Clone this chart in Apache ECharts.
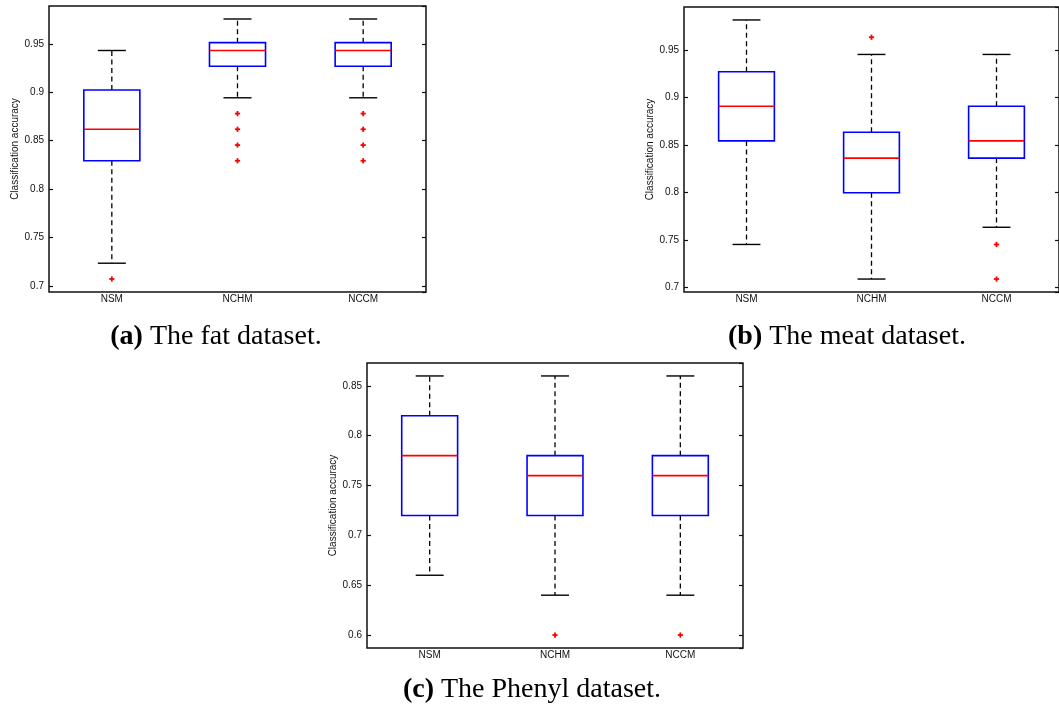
<!DOCTYPE html>
<html>
<head>
<meta charset="utf-8">
<title>Classification accuracy box plots</title>
<script src="https://cdn.jsdelivr.net/npm/echarts@6/dist/echarts.min.js"></script>
<style>
  html, body { margin: 0; padding: 0; background: #fff; }
  #chart { width: 1059px; height: 711px; }
</style>
</head>
<body>
<div id="chart"></div>
<script>
// Methods compared in every panel
const categories = ['NSM', 'NCHM', 'NCCM'];

// Box statistics per method: [lower whisker, Q1, median, Q3, upper whisker]
const fatBoxes = [
  [0.7236, 0.8293, 0.8618, 0.9024, 0.9431],
  [0.8943, 0.9268, 0.9431, 0.9512, 0.9756],
  [0.8943, 0.9268, 0.9431, 0.9512, 0.9756]
];
// Outliers: [method index, value]
const fatOutliers = [
  [0, 0.7073],
  [1, 0.8780], [1, 0.8618], [1, 0.8455], [1, 0.8293],
  [2, 0.8780], [2, 0.8618], [2, 0.8455], [2, 0.8293]
];

const meatBoxes = [
  [0.7455, 0.8545, 0.8909, 0.9273, 0.9818],
  [0.7091, 0.8000, 0.8364, 0.8636, 0.9455],
  [0.7636, 0.8364, 0.8545, 0.8909, 0.9455]
];
const meatOutliers = [
  [1, 0.9636],
  [2, 0.7455], [2, 0.7091]
];

const phenylBoxes = [
  [0.66, 0.72, 0.78, 0.82, 0.86],
  [0.64, 0.72, 0.76, 0.78, 0.86],
  [0.64, 0.72, 0.76, 0.78, 0.86]
];
const phenylOutliers = [
  [1, 0.60],
  [2, 0.60]
];

const captions = [
  { tag: '(a)', text: ' The fat dataset.' },
  { tag: '(b)', text: ' The meat dataset.' },
  { tag: '(c)', text: ' The Phenyl dataset.' }
];
const yAxisName = 'Classification accuracy';

// Panel frames in pixels
const panels = [
  { boxes: fatBoxes, outliers: fatOutliers, grid: { left: 49, top: 6, width: 377, height: 286 }, nameGap: 28, caption: { x: 216, y: 337 } },
  { boxes: meatBoxes, outliers: meatOutliers, grid: { left: 684, top: 7, width: 376, height: 285 }, nameGap: 28, caption: { x: 847, y: 337 } },
  { boxes: phenylBoxes, outliers: phenylOutliers, grid: { left: 367, top: 363, width: 376, height: 285 }, nameGap: 28, caption: { x: 532, y: 690 } }
];

// Axis limits: data range padded by 5% on each side
function paddedRange(boxes, outliers) {
  const vals = [];
  boxes.forEach(b => vals.push(...b));
  outliers.forEach(o => vals.push(o[1]));
  const lo = Math.min(...vals), hi = Math.max(...vals);
  const pad = (hi - lo) * 0.05;
  return [lo - pad, hi + pad];
}

function renderBox(params, api) {
  const x = api.value(0);
  const lo = api.coord([x, api.value(1)]);
  const q1 = api.coord([x, api.value(2)]);
  const med = api.coord([x, api.value(3)]);
  const q3 = api.coord([x, api.value(4)]);
  const hi = api.coord([x, api.value(5)]);
  const band = api.size([1, 0])[0];
  const halfBox = band * 0.223;
  const halfCap = halfBox / 2;
  const cx = lo[0];
  const whisker = { stroke: '#000', lineWidth: 1.3, lineDash: [5, 3.5] };
  const cap = { stroke: '#000', lineWidth: 1.4 };
  return {
    type: 'group',
    children: [
      { type: 'line', shape: { x1: cx, y1: q3[1], x2: cx, y2: hi[1] }, style: whisker },
      { type: 'line', shape: { x1: cx, y1: q1[1], x2: cx, y2: lo[1] }, style: whisker },
      { type: 'line', shape: { x1: cx - halfCap, y1: hi[1], x2: cx + halfCap, y2: hi[1] }, style: cap },
      { type: 'line', shape: { x1: cx - halfCap, y1: lo[1], x2: cx + halfCap, y2: lo[1] }, style: cap },
      { type: 'rect', shape: { x: cx - halfBox, y: q3[1], width: halfBox * 2, height: q1[1] - q3[1] },
        style: { fill: 'none', stroke: '#0000ff', lineWidth: 1.6 } },
      { type: 'line', shape: { x1: cx - halfBox, y1: med[1], x2: cx + halfBox, y2: med[1] },
        style: { stroke: '#ff0000', lineWidth: 1.6 } }
    ]
  };
}

function renderPlus(params, api) {
  const p = api.coord([api.value(0), api.value(1)]);
  const r = 2.6;
  const st = { stroke: '#ff0000', lineWidth: 1.8 };
  return {
    type: 'group',
    children: [
      { type: 'line', shape: { x1: p[0] - r, y1: p[1], x2: p[0] + r, y2: p[1] }, style: st },
      { type: 'line', shape: { x1: p[0], y1: p[1] - r, x2: p[0], y2: p[1] + r }, style: st }
    ]
  };
}

const axisFont = { fontFamily: 'Liberation Sans', fontSize: 10, color: '#111' };
const grids = [], xAxes = [], yAxes = [], series = [], graphics = [];

panels.forEach((p, i) => {
  const [ymin, ymax] = paddedRange(p.boxes, p.outliers);
  grids.push(Object.assign({ show: true, borderColor: '#111', borderWidth: 1.5, backgroundColor: '#fff' }, p.grid));
  xAxes.push({
    type: 'category', gridIndex: i, data: categories,
    axisLine: { show: false }, axisTick: { show: false },
    axisLabel: Object.assign({ margin: 2 }, axisFont),
    splitLine: { show: false }
  });
  const yBase = {
    type: 'value', gridIndex: i, min: ymin, max: ymax,
    splitLine: { show: false }, axisLine: { show: false },
    axisTick: { show: true, inside: true, length: 4, lineStyle: { color: '#111', width: 1.2 } }
  };
  yAxes.push(Object.assign({}, yBase, {
    position: 'left',
    name: yAxisName, nameLocation: 'middle', nameGap: p.nameGap,
    nameTextStyle: { fontFamily: 'Liberation Sans', fontSize: 10, color: '#111' },
    axisLabel: Object.assign({ margin: 5, showMinLabel: false, showMaxLabel: false }, axisFont)
  }));
  yAxes.push(Object.assign({}, yBase, {
    position: 'right',
    axisLabel: { show: false }
  }));
  series.push({
    type: 'custom', xAxisIndex: i, yAxisIndex: i * 2,
    renderItem: renderBox,
    encode: { x: 0, y: [1, 2, 3, 4, 5] },
    data: p.boxes.map((b, k) => [k].concat(b)),
    silent: true, clip: false
  });
  series.push({
    type: 'custom', xAxisIndex: i, yAxisIndex: i * 2,
    renderItem: renderPlus,
    encode: { x: 0, y: 1 },
    data: p.outliers,
    silent: true, clip: false
  });
  graphics.push({
    type: 'text', x: p.caption.x, y: p.caption.y,
    style: {
      text: '{b|' + captions[i].tag + '}{n|' + captions[i].text + '}',
      align: 'center', verticalAlign: 'middle',
      fontFamily: 'Liberation Serif', fontSize: 28, fill: '#000',
      rich: {
        b: { fontFamily: 'Liberation Serif', fontSize: 28, fontWeight: 'bold', color: '#000' },
        n: { fontFamily: 'Liberation Serif', fontSize: 28, color: '#000' }
      }
    }
  });
});

const chart = echarts.init(document.getElementById('chart'), null, { renderer: 'canvas' });
chart.setOption({
  animation: false,
  backgroundColor: '#fff',
  grid: grids,
  xAxis: xAxes,
  yAxis: yAxes,
  series: series,
  graphic: graphics
});
</script>
</body>
</html>
